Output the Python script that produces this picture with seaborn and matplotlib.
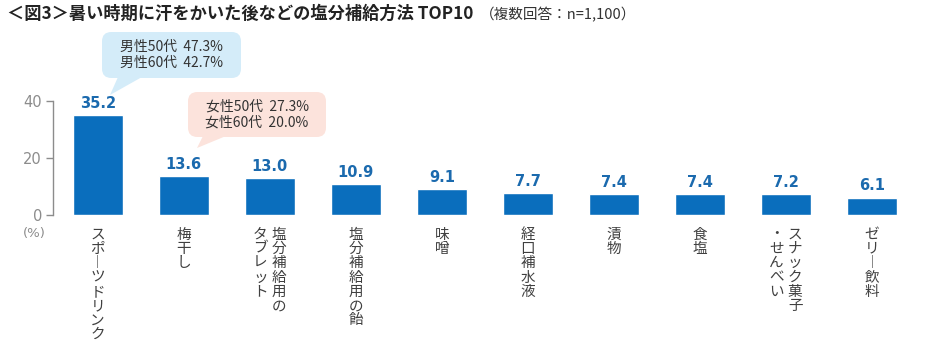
import numpy as np
import pandas as pd
import matplotlib
matplotlib.use("Agg")
import matplotlib.pyplot as plt
import seaborn as sns
from matplotlib.patches import FancyBboxPatch, Polygon

# data
categories = ["スポーツドリンク", "梅干し", "塩分補給用のタブレット", "塩分補給用の飴", "味噌",
              "経口補水液", "漬物", "食塩", "スナック菓子・せんべい", "ゼリー飲料"]
values = [35.2, 13.6, 13.0, 10.9, 9.1, 7.7, 7.4, 7.4, 7.2, 6.1]
# vertical label columns (right to left)
label_columns = [["スポーツドリンク"], ["梅干し"], ["塩分補給用の", "タブレット"], ["塩分補給用の飴"],
                 ["味噌"], ["経口補水液"], ["漬物"], ["食塩"], ["スナック菓子", "・せんべい"], ["ゼリー飲料"]]
yticks = [0, 20, 40]
male_note = ["男性50代  47.3%", "男性60代  42.7%"]
female_note = ["女性50代  27.3%", "女性60代  20.0%"]

title = "＜図3＞暑い時期に汗をかいた後などの塩分補給方法 TOP10"
subtitle = "（複数回答：n=1,100）"

sns.set_theme(style="white")
plt.rcParams['font.family'] = ['Noto Sans CJK JP', 'DejaVu Sans']

W, H = 934, 350
fig = plt.figure(figsize=(W / 100, H / 100), dpi=100)
ax = fig.add_axes([53 / W, 1 - 215 / H, (920 - 53) / W, (215 - 101) / H])

df = pd.DataFrame({"cat": categories, "val": values})
bar_color = "#0A6EBD"
sns.barplot(data=df, x="cat", y="val", color=bar_color, width=0.58, saturation=1, ax=ax)

ax.set_xlim(-0.52, 9.56)
ax.set_ylim(0, 40)
ax.set_yticks(yticks)
ax.set_yticklabels([str(t) for t in yticks], family="DejaVu Sans", fontsize=10.5, color="#8c8c8c")
ax.tick_params(axis="y", length=5, width=1, color="#8c8c8c", left=True, pad=3)
ax.set_xticks([])
ax.set_xlabel("")
ax.set_ylabel("")
for s in ["top", "right", "bottom"]:
    ax.spines[s].set_visible(False)
ax.spines["left"].set_color("#8c8c8c")
ax.spines["left"].set_linewidth(1)

# value labels
for i, v in enumerate(values):
    ax.annotate(f"{v:.1f}", xy=(i, v), xytext=(0, 3), textcoords="offset points",
                ha="center", va="bottom", fontsize=10.5, fontweight="bold",
                color="#1B6AAE", family="DejaVu Sans", clip_on=False)

# vertical category labels
def vert(s):
    return "\n".join("︱" if c == "ー" else c for c in s)

col_gap = 13.5  # points
for i, cols in enumerate(label_columns):
    n = len(cols)
    for j, col in enumerate(cols):
        dx = ((n - 1) / 2 - j) * col_gap
        ax.annotate(vert(col), xy=(i, 0), xytext=(dx, -9), textcoords="offset points",
                    ha="center", va="top", fontsize=10.5, color="#404040",
                    linespacing=1.03, annotation_clip=False)

fig.text(34 / W, 1 - 233 / H, "(%)", ha="center", va="center", fontsize=9.5,
         color="#8c8c8c", family="DejaVu Sans")

# title
fig.text(7 / W, 1 - 14 / H, title, ha="left", va="center", fontsize=12.4,
         fontweight="bold", color="#222222")
fig.text(480 / W, 1 - 15 / H, subtitle, ha="left", va="center", fontsize=10.5,
         color="#333333")

def px(x, y):
    return (x / W, 1 - y / H)

def callout(box, tail, fc, lines):
    x0, y0, x1, y1 = box
    patch = FancyBboxPatch(px(x0, y1), (x1 - x0) / W, (y1 - y0) / H,
                           boxstyle="round,pad=0,rounding_size=0.01",
                           transform=fig.transFigure, fc=fc, ec="none",
                           mutation_aspect=W / H)
    fig.patches.append(patch)
    tri = Polygon([px(*p) for p in tail], closed=True, transform=fig.transFigure,
                  fc=fc, ec="none")
    fig.patches.append(tri)
    cx = (x0 + x1) / 2
    cy = (y0 + y1) / 2
    fig.text(*px(cx, cy), "\n".join(lines), ha="center", va="center",
             fontsize=10, color="#333333", linespacing=1.15)

callout((102, 32, 241, 78), [(118, 77), (142, 77), (110, 95)], "#D4ECF9", male_note)
callout((188, 92, 326, 137), [(203, 136), (226, 136), (197, 148)], "#FCE3DC", female_note)

fig.savefig("out.png", dpi=100)
